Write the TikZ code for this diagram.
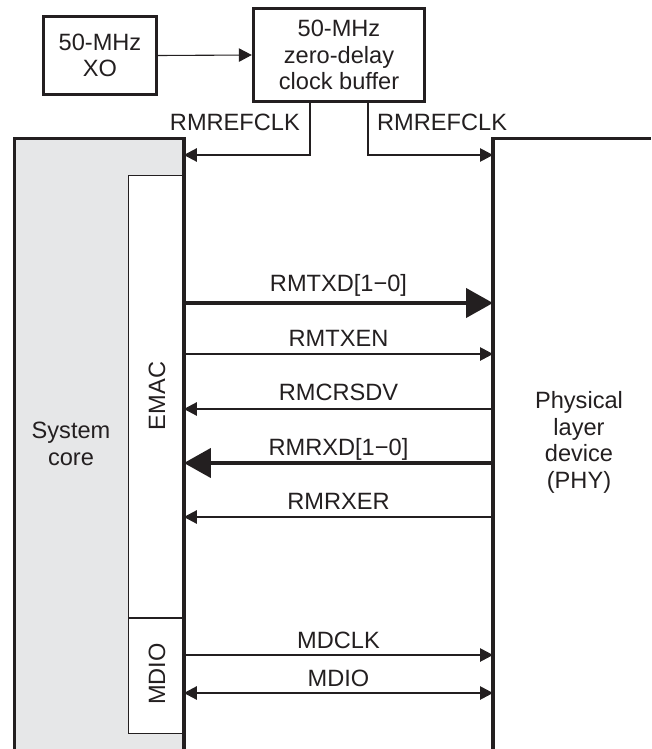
\documentclass[tikz,border=0pt]{standalone}
\usepackage{fontspec}
\setmainfont{Liberation Sans}
\usetikzlibrary{arrows.meta}
\definecolor{coregray}{HTML}{E6E7E8}
\definecolor{ink}{HTML}{231F20}
\begin{document}
\begin{tikzpicture}[x=1pt,y=-1pt,
  txt/.style={font=\fontsize{23.6}{26.5}\selectfont, inner sep=0pt, align=center, text=ink},
  boxthick/.style={draw=ink, line width=3.4pt, inner sep=0pt},
  edgethick/.style={draw=ink, line width=3.4pt},
  thinline/.style={draw=ink, line width=1.1pt},
  fatline/.style={draw=ink, line width=4.2pt},
  tipthin/.style={-{Triangle[length=13pt,width=13.5pt]}},
  tipboth/.style={{Triangle[length=13pt,width=13.5pt]}-{Triangle[length=13pt,width=13.5pt]}},
  tipfat/.style={-{Triangle[length=27pt,width=29pt]}},
  area/.style={inner sep=0pt, anchor=north west}
]
\useasboundingbox (0,0) rectangle (651,749);

% blocks
\node[area, fill=coregray, minimum width=169pt, minimum height=610.5pt] (core) at (14.5,138.5) {};
\node[area, minimum width=158pt, minimum height=610.5pt] (phy) at (493,138.5) {};
\node[area, thinline, fill=white, minimum width=55.5pt, minimum height=442pt] (emac) at (128,175) {};
\node[area, thinline, fill=white, minimum width=55.5pt, minimum height=115pt] (mdio) at (emac.south west) {};
\draw[edgethick] (core.south west) -- (core.north west) -- (core.north east) -- (core.south east);
\draw[edgethick] (phy.south west) -- (phy.north west) -- (phy.north east);

\node[txt] (corelbl) at (71,444) {System\\core};
\node[txt, rotate=90] (emaclbl) at (157,396) {EMAC};
\node[txt, rotate=90] (mdiolbl) at (157,674) {MDIO};
\node[txt] (phylbl) at (579,442.5) {Physical\\layer\\device\\(PHY)};

\node[boxthick, txt, minimum width=113pt, minimum height=78pt] (xo) at (100,55.5) {50-MHz\\XO};
\node[boxthick, txt, minimum width=171pt, minimum height=93pt] (buf) at (339,55) {50-MHz\\zero-delay\\clock buffer};
\draw[thinline, tipthin] (xo.east) -- (buf.west);

% reference clock
\coordinate (yref) at (0,155);
\draw[thinline, tipthin] ([xshift=-29pt]buf.south) |- (core.east |- yref);
\draw[thinline, tipthin] ([xshift=29pt]buf.south) |- (phy.west |- yref);
\node[txt, anchor=base east] (lrefl) at (300,131) {RMREFCLK};
\node[txt, anchor=base west] (lrefr) at (377,131) {RMREFCLK};

% signal rows
\coordinate (ytxd) at (0,303);
\coordinate (ytxen) at (0,354);
\coordinate (ycrs) at (0,409);
\coordinate (yrxd) at (0,463);
\coordinate (yrxer) at (0,517);
\coordinate (ymdc) at (0,655);
\coordinate (ymdio) at (0,693);

\draw[fatline, tipfat] (core.east |- ytxd) -- (phy.west |- ytxd);
\draw[thinline, tipthin] (core.east |- ytxen) -- (phy.west |- ytxen);
\draw[thinline, tipthin] (phy.west |- ycrs) -- (core.east |- ycrs);
\draw[fatline, tipfat] (phy.west |- yrxd) -- (core.east |- yrxd);
\draw[thinline, tipthin] (phy.west |- yrxer) -- (core.east |- yrxer);
\draw[thinline, tipthin] (core.east |- ymdc) -- (phy.west |- ymdc);
\draw[thinline, tipboth] (core.east |- ymdio) -- (phy.west |- ymdio);

\node[txt, anchor=base] (ltxd) at (338.5,291) {RMTXD[1−0]};
\node[txt, anchor=base] (ltxen) at (338.5,346) {RMTXEN};
\node[txt, anchor=base] (lcrs) at (338.5,400) {RMCRSDV};
\node[txt, anchor=base] (lrxd) at (338.5,455) {RMRXD[1−0]};
\node[txt, anchor=base] (lrxer) at (338.5,509) {RMRXER};
\node[txt, anchor=base] (lmdc) at (338.5,648) {MDCLK};
\node[txt, anchor=base] (lmdio) at (338.5,686) {MDIO};
\end{tikzpicture}
\end{document}
